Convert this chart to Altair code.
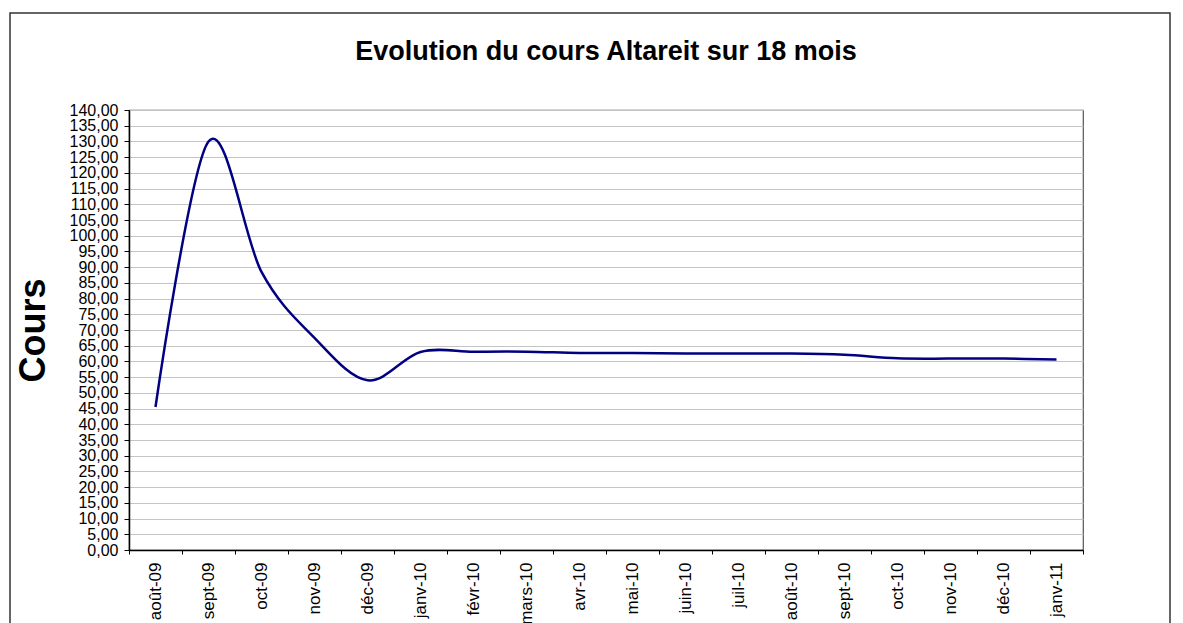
import altair as alt
import pandas as pd

months = ["août-09", "sept-09", "oct-09", "nov-09", "déc-09", "janv-10", "févr-10",
          "mars-10", "avr-10", "mai-10", "juin-10", "juil-10", "août-10", "sept-10",
          "oct-10", "nov-10", "déc-10", "janv-11"]
cours = [45.5, 130.0, 88.5, 67.5, 54.0, 63.0, 63.1, 63.1, 62.7, 62.7, 62.5, 62.5,
         62.5, 62.1, 61.0, 60.9, 60.9, 60.6]
y_ticks = list(range(0, 141, 5))

df = pd.DataFrame({"mois": months, "cours": cours})

FONT = "Liberation Sans"

line = alt.Chart(df).mark_line(
    color="#000080", strokeWidth=2.5, interpolate="cardinal"
).encode(
    x=alt.X("mois:O", sort=months,
            scale=alt.Scale(type="band", paddingInner=0, paddingOuter=0),
            axis=alt.Axis(title=None, labelAngle=-90, tickBand="extent",
                          labelFontSize=17, labelFont=FONT, labelColor="#000",
                          labelPadding=8, tickSize=4, tickColor="#000",
                          labelOverlap=False,
                          domainColor="#000", domainWidth=1.5, grid=False)),
    y=alt.Y("cours:Q",
            scale=alt.Scale(domain=[0, 140], nice=False),
            axis=alt.Axis(title="Cours", values=y_ticks,
                          labelExpr="replace(format(datum.value, '.2f'), '.', ',')",
                          labelFontSize=16, labelFont=FONT, labelColor="#000",
                          labelPadding=6, tickSize=5, tickColor="#000",
                          labelOverlap=False, labelBound=False,
                          domainColor="#000", domainWidth=1.5,
                          gridColor="#c4c4c4", gridWidth=1.2,
                          titleFont=FONT, titleFontSize=36, titleFontWeight="bold",
                          titleColor="#000", titlePadding=17))
)

frame = alt.Chart(pd.DataFrame({"a": [0]})).mark_rect(
    fill=None, stroke="#333", strokeWidth=1.5
).encode(
    x=alt.value(-119), x2=alt.value(1041), y=alt.value(-97), y2=alt.value(530)
)

chart = alt.layer(frame, line).properties(
    width=954, height=440,
    title=alt.TitleParams("Evolution du cours Altareit sur 18 mois",
                          font=FONT, fontSize=27, fontWeight="bold", color="#000",
                          anchor="middle", offset=-54),
    autosize=alt.AutoSizeParams(type="none"),
    padding={"left": 121, "top": 102, "right": 92, "bottom": 73},
).configure_view(stroke="#555", strokeWidth=1.2)

chart.save("out.html", embed_options={"renderer": "svg", "actions": False})
